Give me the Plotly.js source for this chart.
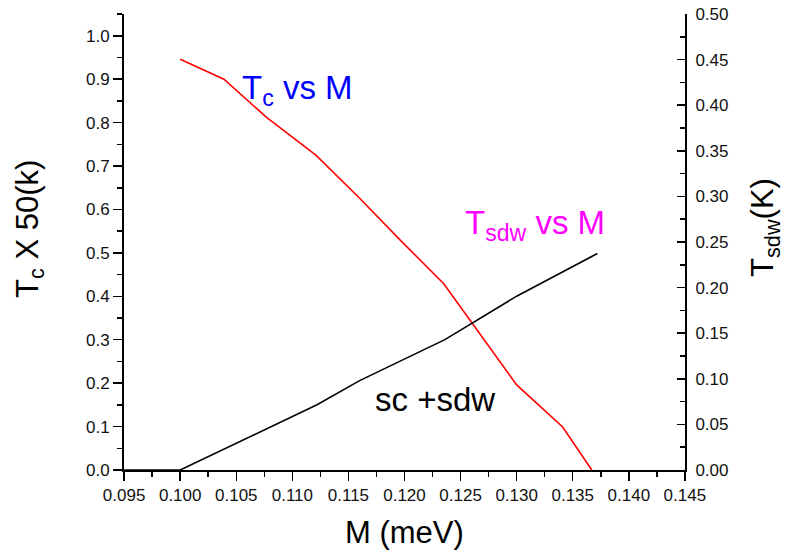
<!DOCTYPE html>
<html>
<head>
<meta charset="utf-8">
<script src="https://cdn.plot.ly/plotly-3.0.1.min.js"></script>
<style>html,body{margin:0;padding:0;background:#fff;}#chart{width:790px;height:553px;}</style>
</head>
<body>
<div id="chart"></div>
<script>
// Tc x 50 (K) vs M (left axis)
const mTc = [0.1000, 0.1039, 0.1077, 0.1121, 0.1160, 0.1196, 0.1235, 0.1300, 0.1341, 0.1367];
const tc  = [0.946, 0.900, 0.812, 0.725, 0.626, 0.530, 0.429, 0.196, 0.099, 0.000];
// Tsdw (K) vs M (right axis)
const mSdw = [0.0950, 0.1000, 0.1122, 0.1160, 0.1236, 0.1300, 0.1372];
const tSdw = [0.000, 0.000, 0.0716, 0.098, 0.143, 0.1906, 0.2375];

const FONT = 'Liberation Sans, Arial, sans-serif';

const traces = [
  {x: mTc, y: tc, type: 'scatter', mode: 'lines', line: {color: '#ff0000', width: 1.6}, yaxis: 'y', hoverinfo: 'skip'},
  {x: mSdw, y: tSdw, type: 'scatter', mode: 'lines', line: {color: '#000000', width: 1.6}, yaxis: 'y2', hoverinfo: 'skip'}
];

const layout = {
  width: 790, height: 553,
  margin: {l: 124, r: 105, t: 14, b: 83},
  paper_bgcolor: '#fff', plot_bgcolor: '#fff',
  showlegend: false,
  font: {family: FONT, color: '#000'},
  xaxis: {
    range: [0.09499, 0.14501], tick0: 0.095, dtick: 0.005, tickformat: '.3f',
    showgrid: false, zeroline: false, showline: true, linecolor: '#000', linewidth: 2,
    ticks: 'outside', ticklen: 9, tickwidth: 1.5, tickcolor: '#000',
    minor: {dtick: 0.0025, tick0: 0.095, ticks: 'outside', ticklen: 5, tickwidth: 1.5, tickcolor: '#000', showgrid: false},
    tickfont: {family: FONT, size: 17, color: '#111'}
  },
  yaxis: {
    range: [0, 1.0502], tick0: 0, dtick: 0.1, tickformat: '.1f',
    showgrid: false, zeroline: false, showline: true, linecolor: '#000', linewidth: 2,
    ticks: 'outside', ticklen: 9, tickwidth: 1.5, tickcolor: '#000',
    minor: {dtick: 0.05, tick0: 0, ticks: 'outside', ticklen: 5, tickwidth: 1.5, tickcolor: '#000', showgrid: false},
    tickfont: {family: FONT, size: 17, color: '#111'}
  },
  yaxis2: {
    overlaying: 'y', side: 'right',
    range: [0, 0.50005], tick0: 0, dtick: 0.05, tickformat: '.2f',
    showgrid: false, zeroline: false, showline: true, linecolor: '#000', linewidth: 2,
    ticks: 'inside', ticklen: 8, tickwidth: 1.5, tickcolor: '#000',
    minor: {dtick: 0.025, tick0: 0, ticks: 'inside', ticklen: 5, tickwidth: 1.5, tickcolor: '#000', showgrid: false},
    ticklabelstandoff: 5,
    tickfont: {family: FONT, size: 17, color: '#111'}
  },
  annotations: [
    {text: 'M (meV)', xref: 'paper', yref: 'paper', x: 0.5, y: -0.136, xanchor: 'center', yanchor: 'middle', showarrow: false, font: {family: FONT, size: 31, color: '#000'}},
    {text: 'T<sub>c</sub> X 50(k)', xref: 'paper', yref: 'paper', x: -0.1676, y: 0.5285, xanchor: 'center', yanchor: 'middle', textangle: -90, showarrow: false, font: {family: FONT, size: 31, color: '#000'}},
    {text: 'T<sub>sdw</sub>(K)', xref: 'paper', yref: 'paper', x: 1.1426, y: 0.533, xanchor: 'center', yanchor: 'middle', textangle: -90, showarrow: false, font: {family: FONT, size: 31, color: '#000'}},
    {text: 'T<sub>c</sub> vs M', xref: 'x', yref: 'y', x: 0.10534, y: 0.875, xanchor: 'left', yanchor: 'middle', showarrow: false, font: {family: FONT, size: 33, color: '#0000ff'}},
    {text: 'T<sub>sdw</sub> vs M', xref: 'x', yref: 'y', x: 0.12524, y: 0.565, xanchor: 'left', yanchor: 'middle', showarrow: false, font: {family: FONT, size: 33, color: '#ff00ff'}},
    {text: 'sc +sdw', xref: 'x', yref: 'y', x: 0.11717, y: 0.162, xanchor: 'left', yanchor: 'middle', showarrow: false, font: {family: FONT, size: 33, color: '#000'}}
  ]
};

Plotly.newPlot('chart', traces, layout, {staticPlot: true, displayModeBar: false});
</script>
</body>
</html>
